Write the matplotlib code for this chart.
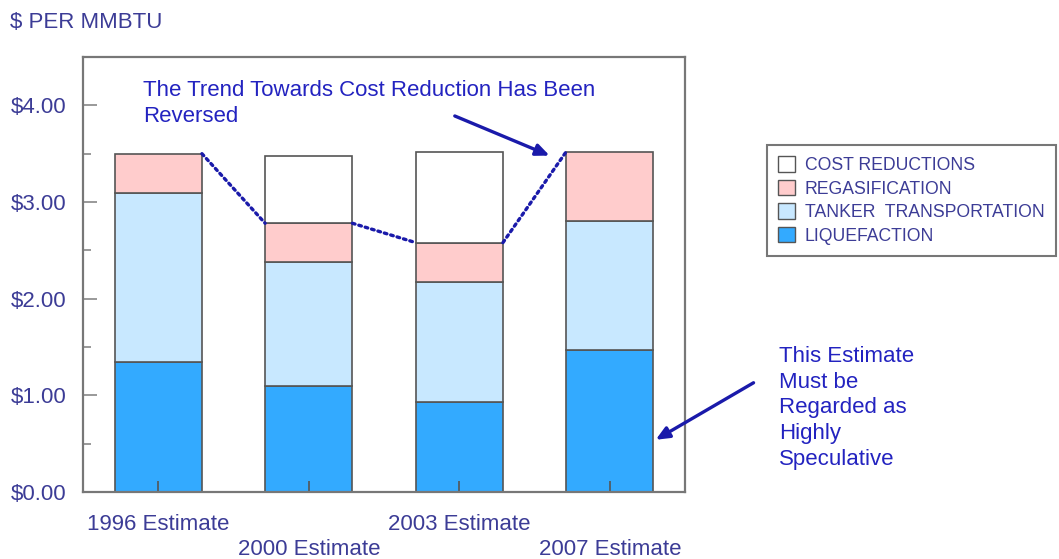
import matplotlib.pyplot as plt
from matplotlib.patches import Patch
import numpy as np

plt.rcParams['font.family'] = ['Liberation Sans', 'DejaVu Sans']

# cost components, $ per MMBTU
estimates = ['1996 Estimate', '2000 Estimate', '2003 Estimate', '2007 Estimate']
liquefaction = [1.34, 1.10, 0.93, 1.47]
tanker = [1.75, 1.28, 1.24, 1.33]
regasification = [0.41, 0.40, 0.41, 0.72]
cost_reductions = [0.00, 0.70, 0.94, 0.00]
yticks = [0, 1, 2, 3, 4]
ytick_labels = ['$0.00', '$1.00', '$2.00', '$3.00', '$4.00']

c_liq = '#33aaff'
c_tank = '#c8e8ff'
c_regas = '#ffcccc'
c_cost = '#ffffff'
edge = '#555555'
txt = '#3c3c96'
blue = '#2323c0'

fig = plt.figure(figsize=(10.59, 5.59), dpi=100)
ax = fig.add_axes([0.0784, 0.1199, 0.5685, 0.7781])

x = np.arange(len(estimates))
w = 0.58
liq = np.array(liquefaction)
tank = np.array(tanker)
reg = np.array(regasification)
cost = np.array(cost_reductions)

ax.bar(x, liq, w, color=c_liq, edgecolor=edge, linewidth=1.2)
ax.bar(x, tank, w, bottom=liq, color=c_tank, edgecolor=edge, linewidth=1.2)
ax.bar(x, reg, w, bottom=liq + tank, color=c_regas, edgecolor=edge, linewidth=1.2)
has_cost = cost > 0
ax.bar(x[has_cost], cost[has_cost], w, bottom=(liq + tank + reg)[has_cost],
       color=c_cost, edgecolor=edge, linewidth=1.2)

# dotted trend line joining the actual cost tops
total = liq + tank + reg
for i in range(len(x) - 1):
    ax.plot([x[i] + w / 2, x[i + 1] - w / 2], [total[i], total[i + 1]],
            linestyle=(0, (0.8, 1.2)), color='#1a1aaa', linewidth=2.4,
            dash_capstyle='round', zorder=5)

ax.set_xlim(-0.5, 3.5)
ax.set_ylim(0, 4.5)
ax.set_yticks(yticks)
ax.set_yticklabels(ytick_labels, color=txt, fontsize=16)
ax.set_yticks(np.arange(0.5, 4.5, 1.0), minor=True)
ax.tick_params(axis='y', which='major', direction='in', length=10, width=1.2,
               color='#888888', pad=12)
ax.tick_params(axis='y', which='minor', direction='in', length=6, width=1.2,
               color='#888888')
ax.set_xticks(x)
ax.set_xticklabels([])
ax.tick_params(axis='x', direction='in', length=8, width=1.2, color='#555555')

for s in ax.spines.values():
    s.set_color('#777777')
    s.set_linewidth(1.6)

# staggered category labels
for i, lab in enumerate(estimates):
    off = -33 if i % 2 == 0 else -58
    ax.annotate(lab, xy=(x[i], 0), xycoords=('data', 'axes fraction'),
                xytext=(0, off * 0.72), textcoords='offset points',
                ha='center', va='center', fontsize=16, color=txt,
                annotation_clip=False)

fig.text(10 / 1059, 1 - 22 / 559, '$ PER MMBTU', color=txt, fontsize=16,
         ha='left', va='center')

ax.text(-0.1, 4.02, 'The Trend Towards Cost Reduction Has Been\nReversed',
        color=blue, fontsize=16, ha='left', va='center', linespacing=1.3)
ax.annotate('', xy=(2.6, 3.48), xytext=(1.97, 3.89),
            arrowprops=dict(arrowstyle='-|>,head_length=0.8,head_width=0.35',
                            color='#1a1aaa', lw=2.4, shrinkA=0, shrinkB=0))

fig.text(779 / 1059, 1 - 408 / 559,
         'This Estimate\nMust be\nRegarded as\nHighly\nSpeculative',
         color=blue, fontsize=16, ha='left', va='center', linespacing=1.3)
ax.annotate('', xy=(3.305, 0.54), xytext=(3.955, 1.13),
            arrowprops=dict(arrowstyle='-|>,head_length=0.8,head_width=0.35',
                            color='#1a1aaa', lw=2.4, shrinkA=0, shrinkB=0),
            annotation_clip=False)

handles = [Patch(facecolor=c_cost, edgecolor=edge, label='COST REDUCTIONS'),
           Patch(facecolor=c_regas, edgecolor=edge, label='REGASIFICATION'),
           Patch(facecolor=c_tank, edgecolor=edge, label='TANKER  TRANSPORTATION'),
           Patch(facecolor=c_liq, edgecolor=edge, label='LIQUEFACTION')]
leg = fig.legend(handles=handles, loc='upper left',
                 bbox_to_anchor=(767 / 1059, 1 - 145 / 559), borderaxespad=0,
                 fontsize=12.7, fancybox=False, handlelength=0.95, handleheight=0.95,
                 handletextpad=0.55, labelspacing=0.33, borderpad=0.65,
                 framealpha=1)
leg.get_frame().set_edgecolor('#777777')
leg.get_frame().set_linewidth(1.5)
for t in leg.get_texts():
    t.set_color(txt)

fig.savefig('out.png', dpi=100)
